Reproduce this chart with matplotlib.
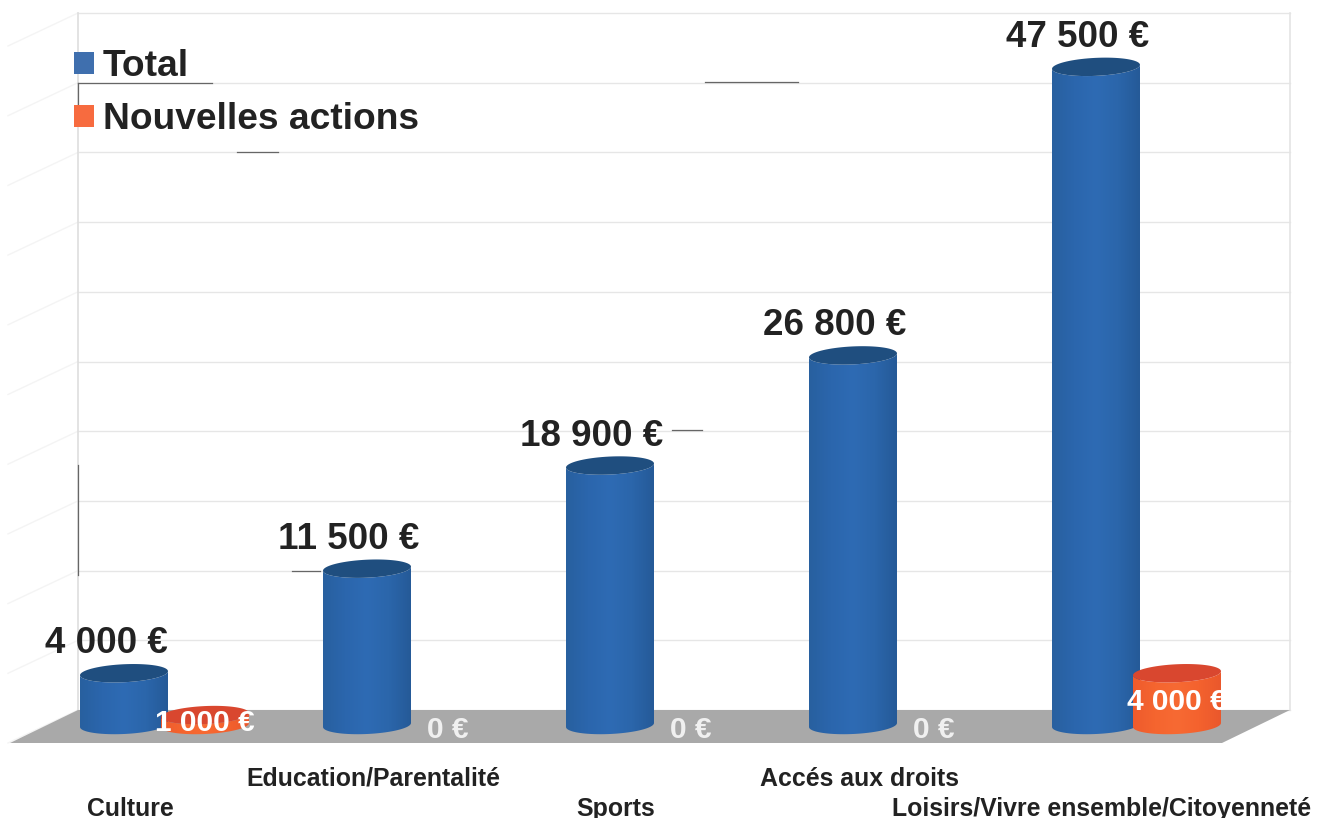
import numpy as np
import matplotlib
matplotlib.use("Agg")
import matplotlib.pyplot as plt
from matplotlib.patches import Patch, PathPatch, Polygon
from matplotlib.path import Path
from matplotlib.colors import LinearSegmentedColormap

categories = ["Culture", "Education/Parentalité", "Sports", "Accés aux droits",
              "Loisirs/Vivre ensemble/Citoyenneté"]
total = [4000, 11500, 18900, 26800, 47500]
nouvelles = [1000, 0, 0, 0, 4000]
total_labels = ["4 000 €", "11 500 €", "18 900 €", "26 800 €", "47 500 €"]
nouvelles_labels = ["1 000 €", "0 €", "0 €", "0 €", "4 000 €"]
grid_values = [0, 5000, 10000, 15000, 20000, 25000, 30000, 35000, 40000, 45000, 50000]
series_names = ["Total", "Nouvelles actions"]

W, H = 1327, 818
BOTTOM = 750
X0, PX_X = 124.0, 243.0
Y0, PX_Y = 729.0, 0.01394
DARK = "#222222"

plt.rcParams["font.family"] = ["Liberation Sans", "DejaVu Sans"]
fig = plt.figure(figsize=(W / 100, H / 100), dpi=100, facecolor="white")
ax = fig.add_axes([0, (H - BOTTOM) / H, 1, BOTTOM / H])
ax.set_xlim(-X0 / PX_X, (W - X0) / PX_X)
ax.set_ylim((Y0 - BOTTOM) / PX_Y, Y0 / PX_Y)
ax.set_frame_on(False)
ax.set_yticks([])

def dx(px):
    return px / PX_X

def dy(px):
    return px / PX_Y

def xpx(px):
    return (px - X0) / PX_X

def ypx(px):
    return (Y0 - px) / PX_Y

WALL = dy(19)
# back wall, side wall and floor
for v in grid_values:
    ax.plot([xpx(78), xpx(1290)], [v + WALL] * 2, color="#e6e6e6", lw=1.0, zorder=1)
    ax.plot([xpx(78), xpx(8)], [v + WALL, v + WALL - dy(33)], color="#f4f4f4", lw=1.0, zorder=1)
ax.plot([xpx(78)] * 2, [WALL, 50000 + WALL], color="#dedede", lw=1.2, zorder=1)
ax.plot([xpx(1290)] * 2, [WALL, 50000 + WALL], color="#e4e4e4", lw=1.2, zorder=1)
ax.add_patch(Polygon([(xpx(10), ypx(743)), (xpx(1222), ypx(743)), (xpx(1290), ypx(710)),
                      (xpx(78), ypx(710))], closed=True, fc="#a9a9a9", ec="none", zorder=2))

# dark scan marks that sit along some gridlines
for x1, x2, y1, y2 in [(705, 798, 82, 82), (78, 212, 83, 83), (237, 278, 152, 152),
                       (672, 702, 430, 430), (292, 320, 571, 571), (78, 78, 465, 575),
                       (78, 78, 83, 104)]:
    ax.plot([xpx(x1), xpx(x2)], [ypx(y1), ypx(y2)], color="#666666", lw=0.9, zorder=2)

A, B, TILT = 44.0, 9.0, 2.0
BASE = dy(4)
t_top = np.linspace(0, 2 * np.pi, 80)
t_arc = np.linspace(np.pi, 2 * np.pi, 40)

def ellipse_pts(xc, v, t):
    return np.column_stack([xc + dx(A * np.cos(t)),
                            v + dy(B * np.sin(t) + TILT * np.cos(t))])

def cylinder(xc, v, side_colors, top_color, z):
    bottom = ellipse_pts(xc, BASE, t_arc)
    top = ellipse_pts(xc, v, t_arc)[::-1]
    pts = np.vstack([bottom, top, bottom[:1]])
    body = Path(pts, closed=True)
    cmap = LinearSegmentedColormap.from_list("c", side_colors)
    im = ax.imshow(np.linspace(0, 1, 128).reshape(1, -1), cmap=cmap, aspect="auto",
                   extent=[xc - dx(A), xc + dx(A), -dy(12), v + dy(12)], zorder=z)
    clip = PathPatch(body, transform=ax.transData, fc="none", ec="none")
    ax.add_patch(clip)
    im.set_clip_path(clip)
    ax.add_patch(Polygon(ellipse_pts(xc, v, t_top), closed=True, fc=top_color, ec="none", zorder=z + 0.1))

blue = ["#28609f", "#2b66ad", "#2e6bb4", "#2b66ab", "#255a98"]
orange = ["#ee5b2d", "#f5652f", "#f76a33", "#f4622e", "#ea582c"]
OFFSET = dx(81)
for i, v in enumerate(total):
    cylinder(i, v, blue, "#1f4e7f", 3)
for i, v in enumerate(nouvelles):
    if v > 0:
        cylinder(i + OFFSET, v, orange, "#d9472f", 4)

ax.set_xlim(-X0 / PX_X, (W - X0) / PX_X)
ax.set_ylim((Y0 - BOTTOM) / PX_Y, Y0 / PX_Y)

for i, (v, lab) in enumerate(zip(total, total_labels)):
    ax.annotate(lab, (i, v), xytext=(-18 * 0.72, 29.5 * 0.72), textcoords="offset points",
                ha="center", va="center", fontsize=26.5, fontweight="bold", color=DARK, zorder=6)
for i, (v, lab) in enumerate(zip(nouvelles, nouvelles_labels)):
    ax.annotate(lab, (i + OFFSET, v / 2), xytext=(0, -1 * 0.72), textcoords="offset points",
                ha="center", va="center", fontsize=21.5, fontweight="bold",
                color="#ffffff" if v else "#f0f0f0", zorder=6)

# category labels on two alternating rows
ax.set_xticks([i + dx(6) for i in range(len(categories))], categories)
ax.tick_params(axis="x", length=0)
for i, tick in enumerate(ax.xaxis.get_major_ticks()):
    tick.set_pad(12 if i % 2 else 33.5)
    tick.label1.set_fontsize(17.9)
    tick.label1.set_fontweight("bold")
    tick.label1.set_color(DARK)

handles = [Patch(fc="#3f6fae", ec="none"), Patch(fc="#f76b3f", ec="none")]
ax.legend(handles, series_names, loc="upper left", bbox_to_anchor=(74 / W, (BOTTOM - 49) / BOTTOM),
          frameon=False, borderpad=0, borderaxespad=0, handlelength=0.55,
          handleheight=0.55, handletextpad=0.22, labelspacing=0.48,
          prop={"weight": "bold", "size": 26.7}, labelcolor=DARK)

fig.savefig("out.png", dpi=100, facecolor="white")
